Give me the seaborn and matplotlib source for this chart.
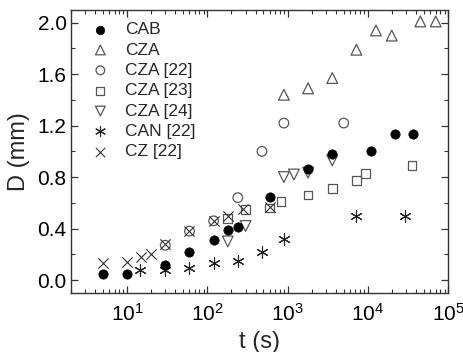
import numpy as np
import pandas as pd
import matplotlib
matplotlib.use("Agg")
import matplotlib.pyplot as plt
from matplotlib.ticker import LogLocator, MultipleLocator
import seaborn as sns

# data: time (s) and diameter D (mm)
cab_t = [5, 10, 30, 60, 120, 180, 240, 600, 1800, 3600, 10800, 21600, 36000]
cab_d = [0.05, 0.05, 0.12, 0.22, 0.31, 0.39, 0.41, 0.645, 0.86, 0.98, 1.0, 1.135, 1.135]

cza_t = [900, 1800, 3600, 7200, 12600, 19800, 45000, 70000]
cza_d = [1.44, 1.49, 1.57, 1.79, 1.94, 1.90, 2.01, 2.01]

cza22_t = [30, 60, 120, 240, 480, 900, 5000]
cza22_d = [0.27, 0.38, 0.46, 0.64, 1.0, 1.22, 1.22]

cza23_t = [180, 300, 600, 830, 1800, 3600, 7200, 9300, 35400]
cza23_d = [0.48, 0.55, 0.56, 0.61, 0.66, 0.71, 0.775, 0.83, 0.89]

cza24_t = [180, 300, 900, 1200, 1800, 3600]
cza24_d = [0.30, 0.42, 0.80, 0.82, 0.835, 0.93]

can22_t = [14.5, 30, 60, 120, 240, 480, 900, 7200, 28800]
can22_d = [0.075, 0.08, 0.09, 0.13, 0.15, 0.22, 0.32, 0.50, 0.50]

cz22_t = [5, 10, 15, 20, 30, 60, 120, 180, 280, 600]
cz22_d = [0.13, 0.14, 0.18, 0.20, 0.28, 0.38, 0.46, 0.50, 0.55, 0.57]

sns.set_style("ticks")
plt.rcParams['font.family'] = ['Liberation Sans', 'DejaVu Sans']
plt.rcParams['mathtext.fontset'] = 'custom'
plt.rcParams['mathtext.rm'] = 'Liberation Sans'
plt.rcParams['mathtext.it'] = 'Liberation Sans'

fig = plt.figure(figsize=(4.63, 3.52), dpi=100)
ax = fig.add_axes([0.153, 0.168, 0.815, 0.804])

gray = '#555555'

sns.scatterplot(x=cab_t, y=cab_d, ax=ax, marker='o', s=45, color='black',
                edgecolor='black', linewidth=0.5, label='CAB', zorder=3)
sns.scatterplot(x=cza_t, y=cza_d, ax=ax, marker='^', s=60, facecolor='none',
                edgecolor=gray, linewidth=0.9, label='CZA')
sns.scatterplot(x=cza22_t, y=cza22_d, ax=ax, marker='o', s=48, facecolor='none',
                edgecolor=gray, linewidth=0.9, label='CZA [22]')
sns.scatterplot(x=cza23_t, y=cza23_d, ax=ax, marker='s', s=40, facecolor='none',
                edgecolor=gray, linewidth=0.9, label='CZA [23]')
sns.scatterplot(x=cza24_t, y=cza24_d, ax=ax, marker='v', s=60, facecolor='none',
                edgecolor=gray, linewidth=0.9, label='CZA [24]')
sns.scatterplot(x=can22_t, y=can22_d, ax=ax, marker=(6, 2, 0), s=65, color='#222222',
                linewidth=0.8, label='CAN [22]')
sns.scatterplot(x=cz22_t, y=cz22_d, ax=ax, marker='x', s=55, color='#333333',
                linewidth=0.8, label='CZ [22]')

ax.set_xscale('log')
ax.set_xlim(2, 1e5)
ax.set_ylim(-0.1, 2.1)
ax.set_yticks([0.0, 0.4, 0.8, 1.2, 1.6, 2.0])
ax.set_yticklabels(['0.0', '0.4', '0.8', '1.2', '1.6', '2.0'])
ax.yaxis.set_minor_locator(MultipleLocator(0.2))
ax.xaxis.set_major_locator(LogLocator(base=10, numticks=10))
ax.xaxis.set_minor_locator(LogLocator(base=10, subs=np.arange(2, 10), numticks=20))

ax.tick_params(which='both', direction='in', top=True, right=True, colors='#333333',
               labelcolor='black', labelsize=15)
ax.tick_params(which='major', length=5, width=0.9)
ax.tick_params(which='minor', length=3, width=0.8)
ax.tick_params(axis='x', which='major', pad=7)
ax.tick_params(axis='y', which='major', pad=3)
for sp in ax.spines.values():
    sp.set_color('#333333')
    sp.set_linewidth(1.0)

ax.set_xlabel('t (s)', fontsize=17, labelpad=5)
ax.set_ylabel('D (mm)', fontsize=17, labelpad=5)

leg = ax.legend(loc='upper left', frameon=False, fontsize=12.5, labelspacing=0.3,
                handletextpad=0.4, borderaxespad=0.3, markerscale=0.9)

fig.savefig('out.png', dpi=100)
